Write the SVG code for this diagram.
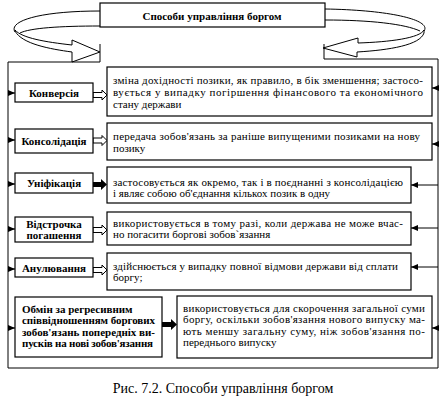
<svg xmlns="http://www.w3.org/2000/svg" width="446" height="402" viewBox="0 0 446 402">
<style>
.box{fill:#fff;stroke:#000;stroke-width:1.2}
.ln{fill:none;stroke:#000;stroke-width:1}
.t{font-family:"Liberation Serif",serif;font-size:11px;fill:#000}
.b{font-family:"Liberation Serif",serif;font-size:11px;font-weight:bold;fill:#000}
.hol{fill:#fff;stroke:#000;stroke-width:1}
.thk{fill:#000;stroke:none}
.band{fill:#fff;stroke:#000;stroke-width:1}
</style>
<defs>
<marker id="ah" markerUnits="userSpaceOnUse" markerWidth="7" markerHeight="6" refX="7" refY="3" orient="auto">
<path d="M0,0 L7,3 L0,6 z" fill="#000"/>
</marker>
</defs>

<g id="title">
<rect class="box" x="100" y="3" width="225" height="24"/>
<text class="b" x="212" y="19.5" text-anchor="middle">Способи управління боргом</text>
</g>

<g id="cycle">
<path class="ln" d="M100,11 C40,11 8,21 15,32"/>
<path class="ln" d="M100,26 C60,26 30,28 20,33"/>
<path class="band" d="M15,31 C22,44 50,49 72,52 L72,62 L100,52 L72,40 L72,45 C45,42 22,38 15,30 z"/>
<path class="ln" d="M325,9 C390,10 432,20 424,31"/>
<path class="ln" d="M325,20 C370,20 405,24 420,31"/>
<path class="band" d="M424,30 C420,38 390,42 358,43 L358,38 L323,48 L357,57 L357,52 C390,50 420,45 424,33 z"/>
</g>

<g id="connectors">
<path class="ln" d="M100,44 L100,62 L8,62 L8,368 L438,368 L438,59 L324,59 L324,44"/>
<line class="ln" x1="8" y1="93" x2="15" y2="93" marker-end="url(#ah)"/>
<line class="ln" x1="8" y1="140" x2="15" y2="140" marker-end="url(#ah)"/>
<line class="ln" x1="8" y1="184" x2="15" y2="184" marker-end="url(#ah)"/>
<line class="ln" x1="8" y1="229" x2="15" y2="229" marker-end="url(#ah)"/>
<line class="ln" x1="8" y1="269" x2="15" y2="269" marker-end="url(#ah)"/>
<line class="ln" x1="8" y1="328" x2="15" y2="328" marker-end="url(#ah)"/>
<line class="ln" x1="438" y1="88" x2="432" y2="88" marker-end="url(#ah)"/>
<line class="ln" x1="438" y1="144" x2="432" y2="144" marker-end="url(#ah)"/>
<line class="ln" x1="438" y1="185" x2="411" y2="185" marker-end="url(#ah)"/>
<line class="ln" x1="438" y1="228" x2="411" y2="228" marker-end="url(#ah)"/>
<line class="ln" x1="438" y1="267" x2="411" y2="267" marker-end="url(#ah)"/>
<line class="ln" x1="438" y1="328" x2="432" y2="328" marker-end="url(#ah)"/>
<polygon class="hol" points="93,92.5 102,92.5 102,90 107,95 102,100 102,97.5 93,97.5"/>
<polygon class="hol" points="93,138 102,138 102,135.5 107,140.5 102,145.5 102,143 93,143"/>
<polygon class="thk" points="93,182 101,182 101,179 107,184.5 101,190 101,187 93,187"/>
<polygon class="hol" points="93,227.5 102,227.5 102,225 107,230 102,235 102,232.5 93,232.5"/>
<polygon class="hol" points="93,267.5 102,267.5 102,265 107,270 102,275 102,272.5 93,272.5"/>
<polygon class="thk" points="162,322 171,322 171,319 177,324.5 171,330 171,327 162,327"/>
</g>

<g id="n1">
<rect class="box" x="15" y="83" width="78" height="19"/>
<text class="b" x="54" y="96.5" text-anchor="middle">Конверсія</text>
</g>
<g id="d1">
<rect class="box" x="107" y="67" width="325" height="49"/>
<text class="t" x="113" y="84" textLength="310" lengthAdjust="spacing">зміна дохідності позики, як правило, в бік зменшення; застосо-</text>
<text class="t" x="113" y="96" textLength="310" lengthAdjust="spacing">вується у випадку погіршення фінансового та економічного</text>
<text class="t" x="113" y="107.5">стану держави</text>
</g>

<g id="n2">
<rect class="box" x="15" y="129" width="78" height="24"/>
<text class="b" x="54" y="145" text-anchor="middle">Консолідація</text>
</g>
<g id="d2">
<rect class="box" x="107" y="123" width="325" height="37"/>
<text class="t" x="113" y="140" textLength="307" lengthAdjust="spacing">передача зобов'язань за раніше випущеними позиками на нову</text>
<text class="t" x="113" y="152">позику</text>
</g>

<g id="n3">
<rect class="box" x="15" y="173" width="78" height="20"/>
<text class="b" x="54" y="187" text-anchor="middle">Уніфікація</text>
</g>
<g id="d3">
<rect class="box" x="107" y="167" width="304" height="36"/>
<text class="t" x="113" y="186" textLength="290" lengthAdjust="spacing">застосовується як окремо, так і в поєднанні з консолідацією</text>
<text class="t" x="113" y="197">і являє собою об'єднання кількох позик в одну</text>
</g>

<g id="n4">
<rect class="box" x="15" y="217" width="78" height="25"/>
<text class="b" x="54" y="227.5" text-anchor="middle">Відстрочка</text>
<text class="b" x="54" y="239" text-anchor="middle">погашення</text>
</g>
<g id="d4">
<rect class="box" x="107" y="212" width="304" height="33"/>
<text class="t" x="113" y="226.5" textLength="290" lengthAdjust="spacing">використовується в тому разі, коли держава не може вчас-</text>
<text class="t" x="113" y="237.5">но погасити боргові зобов`язання</text>
</g>

<g id="n5">
<rect class="box" x="15" y="258" width="78" height="19"/>
<text class="b" x="54" y="271.5" text-anchor="middle">Анулювання</text>
</g>
<g id="d5">
<rect class="box" x="107" y="253" width="304" height="37"/>
<text class="t" x="113" y="270" textLength="285" lengthAdjust="spacing">здійснюється у випадку повної відмови держави від сплати</text>
<text class="t" x="113" y="281">боргу;</text>
</g>

<g id="n6">
<rect class="box" x="15" y="297" width="147" height="60"/>
<text class="b" x="22" y="312.5">Обмін за регресивним</text>
<text class="b" x="22" y="324" textLength="133" lengthAdjust="spacing">співвідношенням боргових</text>
<text class="b" x="22" y="335.5" textLength="133" lengthAdjust="spacing">зобов'язань попередніх ви-</text>
<text class="b" x="22" y="347" textLength="131" lengthAdjust="spacing">пусків на нові зобов'язання</text>
</g>
<g id="d6">
<rect class="box" x="177" y="296" width="255" height="62"/>
<text class="t" x="183" y="311.5" textLength="242" lengthAdjust="spacing">використовується для скорочення загальної суми</text>
<text class="t" x="183" y="323" textLength="242" lengthAdjust="spacing">боргу, оскільки зобов'язання нового випуску ма-</text>
<text class="t" x="183" y="334.5" textLength="242" lengthAdjust="spacing">ють меншу загальну суму, ніж зобов'язання по-</text>
<text class="t" x="183" y="346">переднього випуску</text>
</g>

<text id="caption" x="223" y="393" text-anchor="middle" font-family="'Liberation Serif',serif" font-size="14" fill="#000">Рис. 7.2. Способи управління боргом</text>
</svg>
